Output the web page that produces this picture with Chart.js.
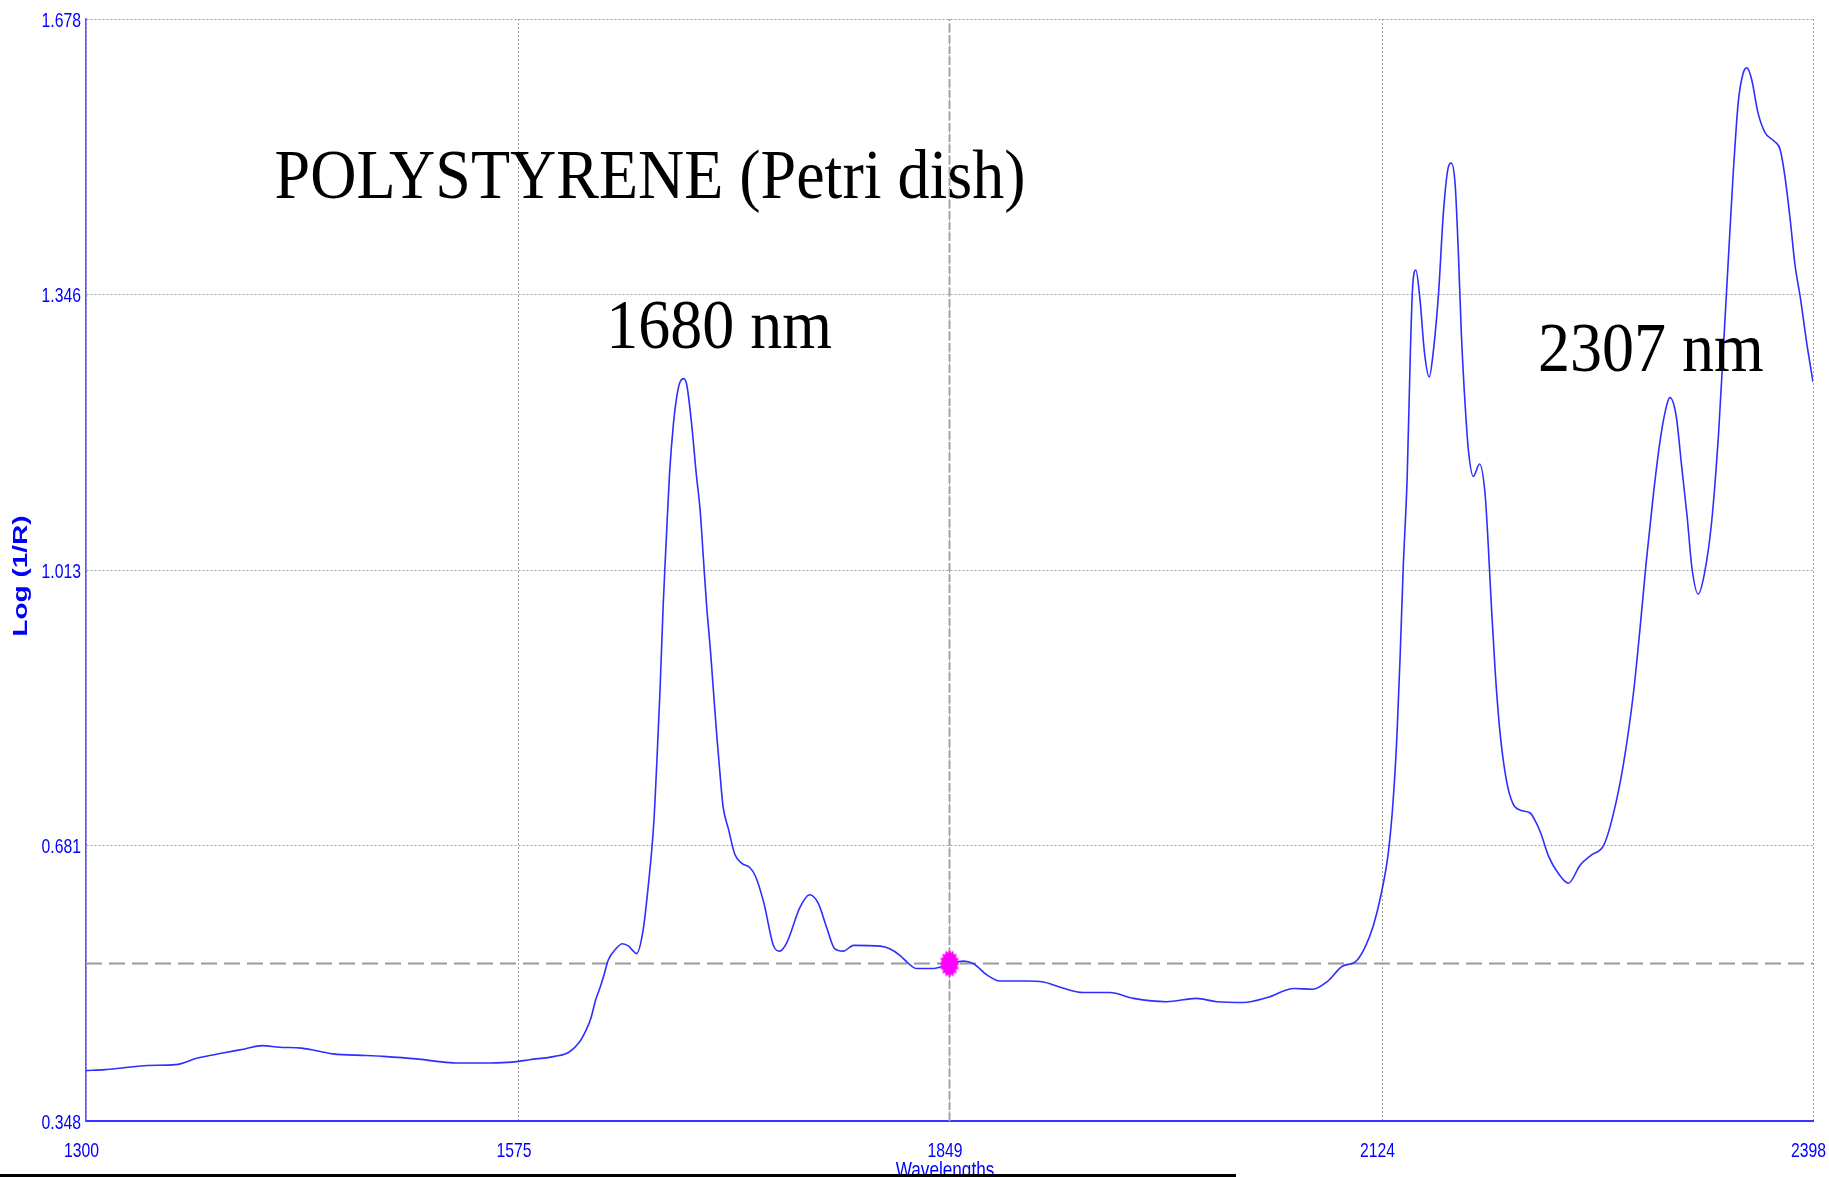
<!DOCTYPE html>
<html>
<head>
<meta charset="utf-8">
<title>Polystyrene NIR spectrum</title>
<script src="https://cdn.jsdelivr.net/npm/chart.js@4.4.1/dist/chart.umd.min.js"></script>
<style>
  html, body { margin: 0; padding: 0; background: #ffffff; }
  #wrap { position: relative; width: 1829px; height: 1177px; }
</style>
</head>
<body>
<div id="wrap"><canvas id="spectrum"></canvas></div>
<script>
// NIR reflectance spectrum of a polystyrene Petri dish, log(1/R) vs wavelength (nm)
const wavelengths = [
  1300, 1312, 1323, 1339, 1357, 1371, 1387, 1401, 1412, 1423, 1437, 1457, 1478, 1489,
  1510, 1523, 1535, 1557, 1571, 1582, 1598, 1607, 1614, 1618, 1621, 1624, 1627, 1629,
  1632, 1637, 1641, 1645, 1648, 1650, 1654, 1657.5, 1661, 1663, 1665, 1667, 1669, 1671,
  1673.5, 1675.5, 1677.5, 1680, 1682, 1685, 1688, 1690.5, 1692.5, 1694.5, 1697, 1699,
  1701, 1703, 1705, 1708.5, 1712.5, 1717, 1722, 1725.5, 1731, 1737, 1741, 1745.5, 1754,
  1760, 1765.5, 1771, 1776, 1781.5, 1788, 1805, 1811, 1817.5, 1823, 1828, 1839, 1849,
  1858, 1864, 1873, 1881, 1898, 1908, 1920, 1934, 1951, 1966, 1987, 2006, 2019, 2036,
  2051, 2068, 2080, 2089, 2099, 2107, 2113, 2118.5, 2123, 2128, 2131, 2133.5, 2135.5,
  2137.5, 2140, 2142, 2143.5, 2145.5, 2148, 2151, 2154, 2156.5, 2160, 2163, 2166, 2168,
  2170.5, 2172.5, 2174.5, 2177, 2179, 2182, 2186, 2189.5, 2191.5, 2193.5, 2196, 2199,
  2203, 2207, 2212, 2218, 2222, 2225, 2230, 2236, 2242.5, 2250, 2257, 2265, 2271, 2277.5,
  2284, 2288, 2292, 2296.5, 2301, 2305, 2307, 2311, 2314.5, 2318, 2321, 2325, 2329,
  2333.5, 2338, 2341, 2344, 2347, 2350.5, 2353.5, 2356, 2359, 2363, 2367.5, 2373, 2377,
  2380, 2383.5, 2386.5, 2390, 2394, 2398
];
const logInvR = [
  0.409, 0.410, 0.412, 0.415, 0.416, 0.424, 0.430, 0.435, 0.439, 0.437, 0.436, 0.429, 0.427, 0.426,
  0.423, 0.420, 0.418, 0.418, 0.419, 0.422, 0.426, 0.431, 0.444, 0.458, 0.472, 0.494, 0.510, 0.522,
  0.542, 0.556, 0.562, 0.559, 0.553, 0.550, 0.576, 0.632, 0.708, 0.784, 0.870, 0.972, 1.053, 1.129,
  1.190, 1.221, 1.239, 1.244, 1.236, 1.190, 1.129, 1.084, 1.028, 0.972, 0.916, 0.865,
  0.814, 0.769, 0.728, 0.700, 0.670, 0.659, 0.654, 0.644, 0.611, 0.560, 0.553, 0.563, 0.606,
  0.621, 0.611, 0.581, 0.556, 0.553, 0.560, 0.559, 0.556, 0.548, 0.538, 0.532, 0.532, 0.538,
  0.541, 0.538, 0.524, 0.517, 0.517, 0.516, 0.509, 0.503, 0.503, 0.496, 0.492, 0.496, 0.492, 0.491,
  0.497, 0.508, 0.507, 0.516, 0.535, 0.540, 0.557, 0.584, 0.618, 0.672, 0.733, 0.814, 0.909,
  1.017, 1.126, 1.275, 1.356, 1.375, 1.342, 1.275, 1.246, 1.275, 1.349, 1.444, 1.498, 1.504,
  1.478, 1.397, 1.295, 1.207, 1.156, 1.126, 1.141, 1.105, 1.044, 0.970, 0.889, 0.817,
  0.760, 0.732, 0.723, 0.720, 0.708, 0.695, 0.667, 0.647, 0.635, 0.657, 0.669, 0.681, 0.718, 0.779,
  0.867, 0.942, 1.023, 1.104, 1.172, 1.212, 1.221, 1.199, 1.138, 1.077, 1.016, 0.984, 1.009,
  1.070, 1.179, 1.280, 1.382, 1.483, 1.578, 1.612, 1.619, 1.605, 1.565, 1.541, 1.531, 1.521,
  1.490, 1.436, 1.382, 1.341, 1.287, 1.240
];

// axis ticks
const xTickValues = [1300, 1575, 1849, 2124, 2398];
const yTickValues = [0.348, 0.681, 1.013, 1.346, 1.678];

// cursor position and its level line
const cursorWavelength = 1849;
const cursorLevel = 0.538;

// text labels placed in data coordinates (centre of baseline)
const noteTexts = ['POLYSTYRENE (Petri dish)', '1680 nm', '2307 nm'];
const noteX = [1658.6, 1702.5, 2295];
const noteY = [1.462, 1.281, 1.253];

const xMin = xTickValues[0], xMax = xTickValues[xTickValues.length - 1];
const yMin = yTickValues[0], yMax = yTickValues[yTickValues.length - 1];

const axisBlue = '#0000ff';
const labelFont = '21px "Liberation Sans", Arial, sans-serif';
const labelSqueeze = 0.75;   // narrow instrument-software lettering

// spiky magenta blob used for the cursor point
function cursorMarker() {
  const c = document.createElement('canvas');
  c.width = 22; c.height = 30;
  const g = c.getContext('2d');
  g.fillStyle = '#ff00ff';
  g.beginPath();
  const n = 16;
  for (let i = 0; i < 2 * n; i++) {
    const a = i * Math.PI / n;
    const r = i % 2 ? 0.78 : 1;
    g.lineTo(11 + 10 * r * Math.cos(a), 15 + 14 * r * Math.sin(a));
  }
  g.closePath();
  g.fill();
  return c;
}

function narrowText(ctx, text, x, y, align, font, squeeze) {
  ctx.save();
  ctx.translate(x, y);
  ctx.scale(squeeze, 1);
  ctx.font = font;
  ctx.textAlign = align;
  ctx.textBaseline = 'alphabetic';
  ctx.fillText(text, 0, 0);
  ctx.restore();
}

const decorations = {
  id: 'decorations',
  afterDatasetsDraw(chart) {
    const { ctx, scales: { x, y } } = chart;
    ctx.save();
    ctx.fillStyle = '#000000';
    ctx.font = '64px "Liberation Serif", "Times New Roman", serif';
    ctx.textAlign = 'center';
    ctx.textBaseline = 'alphabetic';
    noteTexts.forEach((t, i) => {
      ctx.save();
      ctx.translate(x.getPixelForValue(noteX[i]), y.getPixelForValue(noteY[i]));
      ctx.scale(1, 1.08);
      ctx.fillText(t, 0, 0);
      ctx.restore();
    });
    ctx.restore();
  },
  afterDraw(chart) {
    const { ctx, chartArea, scales: { x, y } } = chart;
    ctx.save();
    ctx.fillStyle = axisBlue;
    // tick labels of the wavelength axis
    x.ticks.forEach(t => {
      narrowText(ctx, String(t.value), x.getPixelForValue(t.value) - 4.5, chartArea.bottom + 36,
        'center', labelFont, labelSqueeze);
    });
    // tick labels of the log(1/R) axis
    y.ticks.forEach(t => {
      narrowText(ctx, t.value.toFixed(3), chartArea.left - 5, y.getPixelForValue(t.value) + 7.5,
        'right', labelFont, labelSqueeze);
    });
    // horizontal axis title
    narrowText(ctx, 'Wavelengths', (chartArea.left + chartArea.right) / 2 - 4.5, chart.height,
      'center', '22px "Liberation Sans", Arial, sans-serif', 0.78);
    // vertical axis title
    ctx.translate(21, (chartArea.top + chartArea.bottom) / 2 + 6);
    ctx.rotate(-Math.PI / 2);
    ctx.scale(1.4, 1);
    ctx.font = 'bold 20px "Liberation Sans", Arial, sans-serif';
    ctx.textAlign = 'center';
    ctx.textBaseline = 'middle';
    ctx.fillText('Log (1/R)', 0, 0);
    ctx.restore();
    // window frame edge along the bottom
    ctx.save();
    ctx.fillStyle = '#000000';
    ctx.fillRect(0, chart.height - 3, 1236, 3);
    ctx.restore();
  }
};

new Chart(document.getElementById('spectrum'), {
  type: 'line',
  data: {
    datasets: [
      {
        label: 'cursor',
        data: [{ x: cursorWavelength, y: cursorLevel }],
        pointStyle: cursorMarker(),
        pointRadius: 10,
        showLine: false,
        borderWidth: 0
      },
      {
        label: 'Polystyrene',
        data: wavelengths.map((w, i) => ({ x: w, y: logInvR[i] })),
        borderColor: '#2e2eff',
        borderWidth: 1.6,
        pointRadius: 0,
        cubicInterpolationMode: 'monotone',
        fill: false
      },
      {
        label: 'level',
        data: [{ x: xMin, y: cursorLevel }, { x: xMax, y: cursorLevel }],
        borderColor: '#9a9a9a',
        borderWidth: 2,
        borderDash: [16, 7],
        pointRadius: 0,
        fill: false
      },
      {
        label: 'cursor line',
        data: [{ x: cursorWavelength, y: yMin }, { x: cursorWavelength, y: yMax }],
        borderColor: '#a4a4a4',
        borderWidth: 2,
        borderDash: [8, 3],
        pointRadius: 0,
        fill: false
      }
    ]
  },
  options: {
    responsive: true,
    maintainAspectRatio: false,
    animation: false,
    events: [],
    layout: { padding: { top: 19, right: 16, left: 0, bottom: 0 } },
    plugins: { legend: { display: false }, tooltip: { enabled: false }, title: { display: false } },
    scales: {
      x: {
        type: 'linear',
        min: xMin,
        max: xMax,
        afterBuildTicks: s => { s.ticks = xTickValues.map(v => ({ value: v })); },
        afterFit: s => { s.height = 56; s.paddingLeft = 0; s.paddingRight = 0; },
        ticks: { display: false },
        grid: { color: '#a0a0a0', lineWidth: 1, drawTicks: false },
        border: { display: true, color: '#3535ff', width: 2, dash: [2, 2] }
      },
      y: {
        type: 'linear',
        min: yMin,
        max: yMax,
        afterBuildTicks: s => { s.ticks = yTickValues.map(v => ({ value: v })); },
        afterFit: s => { s.width = 86; s.paddingTop = 0; s.paddingBottom = 0; },
        ticks: { display: false },
        grid: { color: '#a0a0a0', lineWidth: 1, drawTicks: false },
        border: { display: true, color: '#5555ff', width: 1.5, dash: [2, 2] }
      }
    }
  },
  plugins: [decorations]
});
</script>
</body>
</html>
